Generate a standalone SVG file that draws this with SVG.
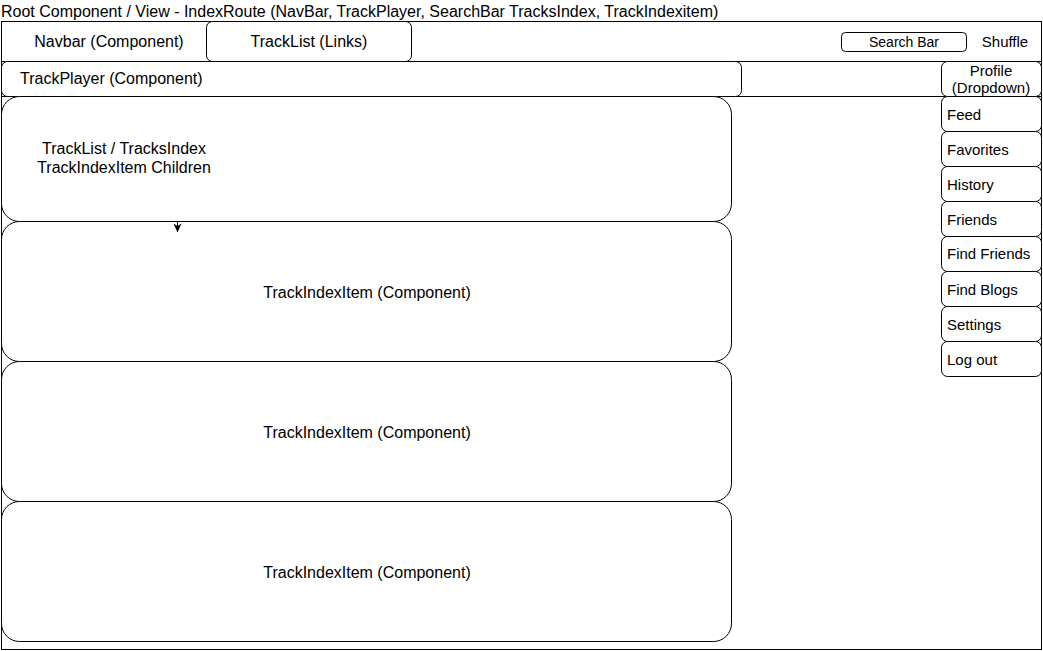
<svg xmlns="http://www.w3.org/2000/svg" width="1043" height="651" viewBox="0 0 1043 651">
<style>
text{font-family:"Liberation Sans",Arial,Helvetica,sans-serif;font-size:16px;fill:#000}
.c{text-anchor:middle}
.s{font-size:15px}
.b{fill:#fff;stroke:#000;stroke-width:1}
.l{fill:none;stroke:#000;stroke-width:1}
</style>
<defs>
<marker id="ah" viewBox="0 0 10 10" refX="9" refY="5" markerUnits="userSpaceOnUse" markerWidth="9" markerHeight="9" orient="auto">
<path d="M0,0.5 L10,5 L0,9.5 L3,5 Z" fill="#000"/>
</marker>
</defs>
<rect width="1043" height="651" fill="#fff"/>
<text x="1" y="17">Root Component / View - IndexRoute (NavBar, TrackPlayer, SearchBar TracksIndex, TrackIndexitem)</text>
<g id="root"><rect class="l" x="1.5" y="21.5" width="1040" height="628"/></g>
<g id="navbar"><rect class="l" x="1.5" y="21.5" width="1040" height="40"/><text class="c" x="109" y="47">Navbar (Component)</text></g>
<g id="tracklist-links"><rect class="b" x="206.5" y="21.5" width="205" height="40" rx="6"/><text class="c" x="309" y="47">TrackList (Links)</text></g>
<g id="searchbar"><rect class="b" x="841.5" y="32.5" width="125" height="19" rx="4"/><text class="c" x="904" y="47" style="font-size:14px">Search Bar</text></g>
<g id="shuffle"><text class="c s" x="1005" y="47">Shuffle</text></g>
<g id="playerrow"><rect class="l" x="1.5" y="61.5" width="1040" height="35"/></g>
<g id="trackplayer"><rect class="b" x="1.5" y="61.5" width="740" height="35" rx="6"/><text x="20" y="84">TrackPlayer (Component)</text></g>
<g id="profile"><rect class="b" x="941.5" y="61.5" width="100" height="35" rx="6"/><text class="c s" x="991" y="76">Profile</text><text class="c s" x="991" y="93">(Dropdown)</text></g>
<g id="feed"><rect class="b" x="941.5" y="96.5" width="100" height="35" rx="6"/><text class="s" x="947" y="120">Feed</text></g>
<g id="favorites"><rect class="b" x="941.5" y="131.5" width="100" height="35" rx="6"/><text class="s" x="947" y="155">Favorites</text></g>
<g id="history"><rect class="b" x="941.5" y="166.5" width="100" height="35" rx="6"/><text class="s" x="947" y="190">History</text></g>
<g id="friends"><rect class="b" x="941.5" y="201.5" width="100" height="35" rx="6"/><text class="s" x="947" y="225">Friends</text></g>
<g id="findfriends"><rect class="b" x="941.5" y="236.5" width="100" height="35" rx="6"/><text class="s" x="947" y="259">Find Friends</text></g>
<g id="findblogs"><rect class="b" x="941.5" y="271.5" width="100" height="35" rx="6"/><text class="s" x="947" y="295">Find Blogs</text></g>
<g id="settings"><rect class="b" x="941.5" y="306.5" width="100" height="35" rx="6"/><text class="s" x="947" y="330">Settings</text></g>
<g id="logout"><rect class="b" x="941.5" y="341.5" width="100" height="35" rx="6"/><text class="s" x="947" y="365">Log out</text></g>
<g id="tracksindex"><rect class="b" x="1.5" y="96.5" width="730" height="125" rx="18"/><text class="c" x="124" y="154">TrackList / TracksIndex</text><text class="c" x="124" y="173">TrackIndexItem Children</text></g>
<g id="item1"><rect class="b" x="1.5" y="221.5" width="730" height="140" rx="18"/><text class="c" x="367" y="298">TrackIndexItem (Component)</text></g>
<g id="item2"><rect class="b" x="1.5" y="361.5" width="730" height="140" rx="18"/><text class="c" x="367" y="438">TrackIndexItem (Component)</text></g>
<g id="item3"><rect class="b" x="1.5" y="501.5" width="730" height="140" rx="18"/><text class="c" x="367" y="578">TrackIndexItem (Component)</text></g>
<g id="connectors"><path class="l" d="M177.5,221.5 L177.5,231.5" marker-end="url(#ah)"/></g>
</svg>
